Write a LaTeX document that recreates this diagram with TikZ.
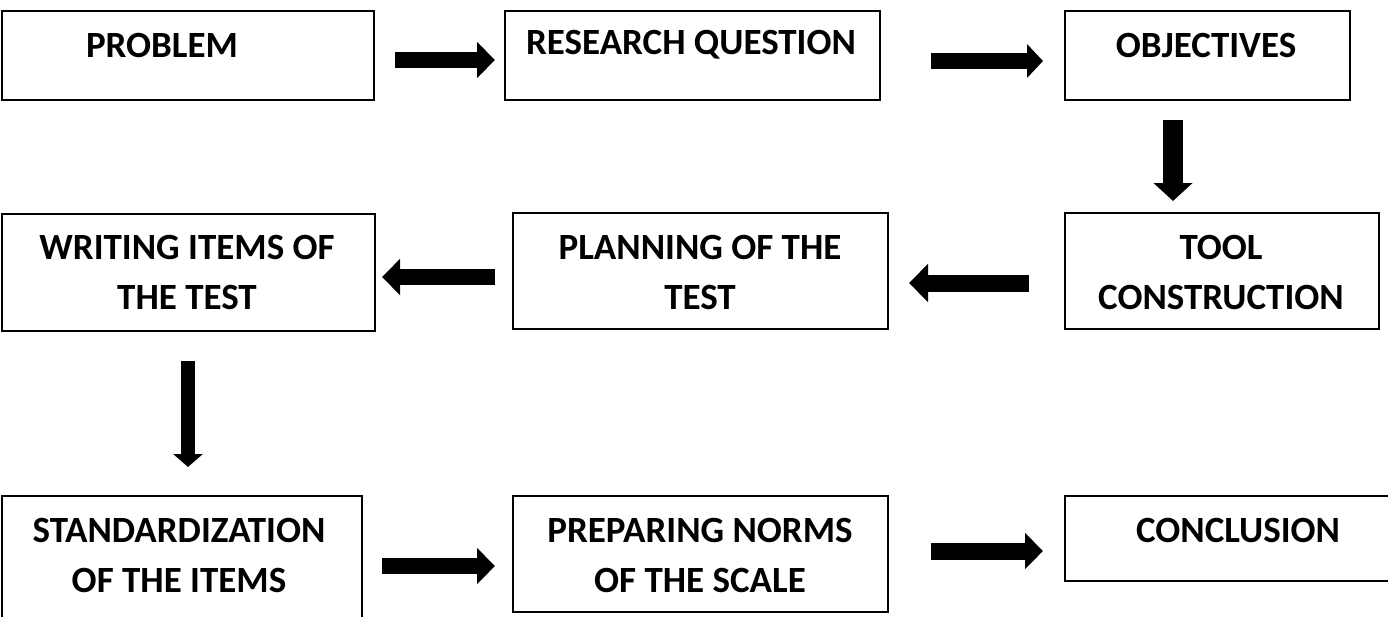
\documentclass[tikz,border=0pt]{standalone}
\usepackage{fontspec}
\setmainfont{Carlito}
\usetikzlibrary{arrows.meta}
\tikzset{
  box/.style={draw=black, line width=2pt, fill=none, inner sep=0pt, anchor=north west},
  lbl/.style={font=\fontsize{37}{50}\selectfont\bfseries, align=center, inner sep=0pt, anchor=center},
  blk/.style={draw=black, line width=16pt, -{Triangle[width=35pt,length=18pt]}},
}
\begin{document}
\begin{tikzpicture}[x=1pt,y=-1pt]
\useasboundingbox (0,0) rectangle (1388,616);
% boxes
\node[box, minimum width=372pt, minimum height=89pt] (p) at (1,10) {};
\node[box, minimum width=375pt, minimum height=89pt] (rq) at (504,10) {};
\node[box, minimum width=285pt, minimum height=89pt] (obj) at (1064,10) {};
\node[box, minimum width=314pt, minimum height=116pt] (tool) at (1064,212) {};
\node[box, minimum width=375pt, minimum height=116pt] (plan) at (512,212) {};
\node[box, minimum width=373pt, minimum height=117pt] (write) at (1,213) {};
\node[box, minimum width=360pt, minimum height=124pt] (std) at (1,495) {};
\node[box, minimum width=375pt, minimum height=116pt] (prep) at (512,495) {};
\node[box, minimum width=340pt, minimum height=85pt] (conc) at (1064,495) {};
% texts
\node[lbl] (tp) at (162,45) {PROBLEM};
\node[lbl] (trq) at (691,45) {RESEARCH QUESTION};
\node[lbl] (tobj) at (1206,45) {OBJECTIVES};
\node[lbl] (ttool) at (1221,272.5) {TOOL\\CONSTRUCTION};
\node[lbl] (tplan) at (700,272.5) {PLANNING OF THE\\TEST};
\node[lbl] (twrite) at (187,272.5) {WRITING ITEMS OF\\THE TEST};
\node[lbl] (tstd) at (179,555) {STANDARDIZATION\\OF THE ITEMS};
\node[lbl] (tprep) at (700,555) {PREPARING NORMS\\OF THE SCALE};
\node[lbl] (tconc) at (1238,530) {CONCLUSION};
% arrows
\draw[blk, shorten <=20pt, shorten >=9pt] ([yshift=-4.5pt]p.east) -- ([yshift=-4.5pt]rq.west);
\draw[blk, line width=16pt, -{Triangle[width=33pt,length=16pt]}, shorten <=50pt, shorten >=21pt] ([yshift=-5.5pt]rq.east) -- ([yshift=-5.5pt]obj.west);
\draw[blk, line width=20pt, -{Triangle[width=38pt,length=18pt]}, shorten <=19pt, shorten >=11pt] ([xshift=-34.5pt]obj.south) -- ([xshift=-49pt]tool.north);
\draw[blk, line width=17pt, -{Triangle[width=37pt,length=19pt]}, shorten <=35pt, shorten >=20pt] ([yshift=-12pt]tool.west) -- ([yshift=-12pt]plan.east);
\draw[blk, shorten <=17pt, shorten >=6pt] ([yshift=-6pt]plan.west) -- ([yshift=-4.5pt]write.east);
\draw[blk, line width=14pt, -{Triangle[width=29pt,length=13pt]}, shorten <=29pt, shorten >=28pt] ([xshift=-0.5pt]write.south) -- ([xshift=6pt]std.north);
\draw[blk, shorten <=19pt, shorten >=17pt] ([yshift=-8pt]std.east) -- ([yshift=-12pt]prep.west);
\draw[blk, line width=17pt, shorten <=42pt, shorten >=21pt] ([yshift=3pt]prep.east) -- ([yshift=-12.5pt]conc.west);
\end{tikzpicture}
\end{document}
